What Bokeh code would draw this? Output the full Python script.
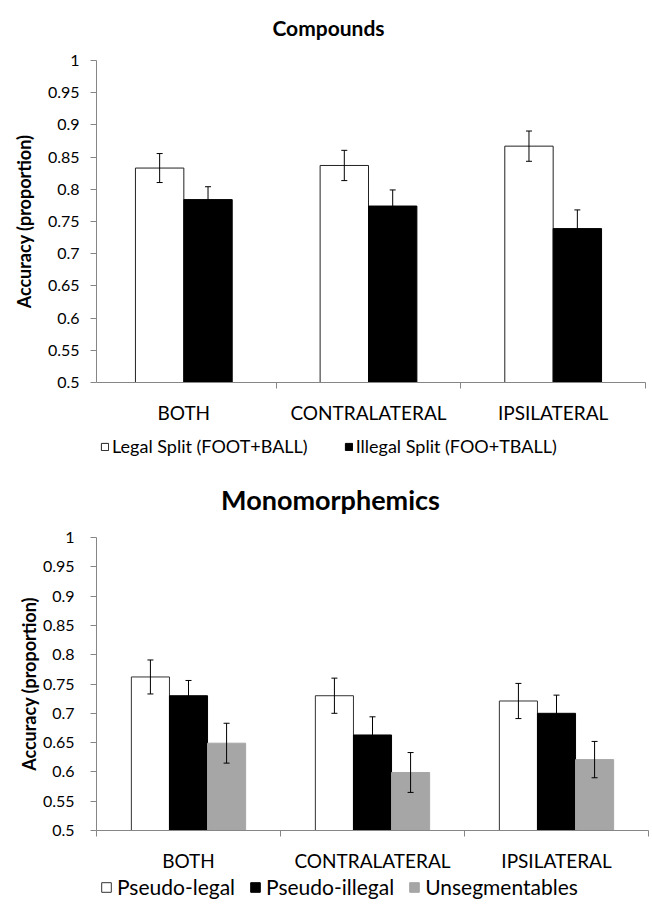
from bokeh.plotting import figure
from bokeh.models import (FixedTicker, Legend, LegendItem, Whisker, TeeHead,
                          ColumnDataSource, Range1d, Label)
from bokeh.layouts import column
from bokeh.embed import file_html
from bokeh.resources import INLINE
import numpy as np

# ---------------- data ----------------
categories = ["BOTH", "CONTRALATERAL", "IPSILATERAL"]
y_ticks = [0.5, 0.55, 0.6, 0.65, 0.7, 0.75, 0.8, 0.85, 0.9, 0.95, 1.0]
y_tick_labels = ["0.5", "0.55", "0.6", "0.65", "0.7", "0.75", "0.8", "0.85", "0.9", "0.95", "1"]

comp_title = "Compounds"
comp_series = ["Legal Split (FOOT+BALL)", "Illegal Split (FOO+TBALL)"]
comp_legal = [0.833, 0.837, 0.867]
comp_legal_err = [0.0225, 0.0235, 0.0235]
comp_illegal = [0.784, 0.774, 0.739]
comp_illegal_err = [0.020, 0.025, 0.029]

mono_title = "Monomorphemics"
mono_series = ["Pseudo-legal", "Pseudo-illegal", "Unsegmentables"]
mono_legal = [0.762, 0.730, 0.721]
mono_legal_err = [0.029, 0.030, 0.030]
mono_illegal = [0.730, 0.663, 0.700]
mono_illegal_err = [0.026, 0.031, 0.031]
mono_unseg = [0.649, 0.599, 0.621]
mono_unseg_err = [0.034, 0.034, 0.031]

y_label = "Accuracy (proportion)"

FONT = "Lato"
AXIS_COLOR = "#868686"
TEXT_COLOR = "#000000"
FIG_W = 650
FRAME_L = 96          # common frame left edge (column aligns frames)
CAT_PX = 184.67       # px per category in the top chart
C1_SHIFT = 5          # top chart's category origin sits 5px left of the frame edge


def blank_fig(height):
    p = figure(width=FIG_W, height=height, output_backend="svg",
               toolbar_location=None, x_range=Range1d(0, 1), y_range=Range1d(0, 1),
               x_axis_location=None, y_axis_location=None,
               min_border_left=FRAME_L, min_border_right=0,
               min_border_top=0, min_border_bottom=0)
    p.outline_line_color = None
    p.xgrid.visible = False
    p.ygrid.visible = False
    p.border_fill_color = "white"
    p.background_fill_color = "white"
    return p


def title_fig(text, height, cx, cy, size):
    p = blank_fig(height)
    p.add_layout(Label(x=cx - FRAME_L, y=cy, x_units="screen", y_units="screen",
                       text=text, text_align="center", text_baseline="middle",
                       text_font=FONT, text_font_style="bold",
                       text_font_size=size, text_color=TEXT_COLOR))
    return p


def legend_fig(series_names, values, fills, lines, height, loc, size, glyph,
               spacing, standoff):
    p = blank_fig(height)
    items = []
    centers = np.arange(len(categories)) + 0.5
    for name, vals, fc, lc in zip(series_names, values, fills, lines):
        # proxy renderer (hidden) that carries the series style for the legend
        r = p.vbar(x=centers, top=vals, bottom=0.5, width=0.2,
                   fill_color=fc, line_color=lc, visible=False)
        items.append(LegendItem(label=name, renderers=[r]))
    legend = Legend(items=items, orientation="horizontal",
                    location=(loc[0] - FRAME_L, loc[1]),
                    border_line_color=None, background_fill_alpha=0,
                    label_text_font=FONT, label_text_font_size=size,
                    label_text_color=TEXT_COLOR, label_height=22,
                    glyph_width=glyph, glyph_height=glyph,
                    spacing=spacing, label_standoff=standoff, padding=0, margin=0,
                    inactive_fill_alpha=0)
    p.add_layout(legend, "center")
    return p


def chart_fig(values, errors, fills, lines, bar_width, frame_w, frame_h, borders,
              x_start, tick_standoff, ylab_standoff):
    n_cat = len(categories)
    n_ser = len(values)
    centers = np.arange(n_cat) + 0.5
    p = figure(frame_width=frame_w, frame_height=frame_h, output_backend="svg",
               toolbar_location=None, x_range=Range1d(x_start, n_cat),
               y_range=Range1d(0.5, 1.0),
               min_border_left=borders[0], min_border_right=borders[1],
               min_border_top=borders[2], min_border_bottom=borders[3])
    p.outline_line_color = None
    p.xgrid.visible = False
    p.ygrid.visible = False
    p.background_fill_color = "white"
    p.border_fill_color = "white"

    for k in range(n_ser):
        offs = (k - (n_ser - 1) / 2.0) * bar_width
        src = ColumnDataSource(dict(x=centers + offs, top=values[k],
                                    upper=np.array(values[k]) + np.array(errors[k]),
                                    lower=np.array(values[k]) - np.array(errors[k])))
        p.vbar(x="x", top="top", bottom=0.5, width=bar_width, source=src,
               fill_color=fills[k], line_color=lines[k], line_width=1)
        p.add_layout(Whisker(source=src, base="x", upper="upper", lower="lower",
                             line_color="black", line_width=1, level="overlay",
                             upper_head=TeeHead(size=6, line_color="black", line_width=1),
                             lower_head=TeeHead(size=6, line_color="black", line_width=1)))

    ya = p.yaxis[0]
    ya.ticker = FixedTicker(ticks=y_ticks, minor_ticks=[])
    ya.major_label_overrides = {t: l for t, l in zip(y_ticks, y_tick_labels)}
    ya.axis_line_color = AXIS_COLOR
    ya.major_tick_line_color = AXIS_COLOR
    ya.major_tick_out = 6
    ya.major_tick_in = 0
    ya.minor_tick_line_color = None
    ya.major_label_text_font = FONT
    ya.major_label_text_font_size = "16px"
    ya.major_label_text_color = TEXT_COLOR
    ya.major_label_standoff = tick_standoff
    ya.axis_label = y_label
    ya.axis_label_text_font = FONT
    ya.axis_label_text_font_style = "bold"
    ya.axis_label_text_font_size = "18px"
    ya.axis_label_text_color = TEXT_COLOR
    ya.axis_label_standoff = ylab_standoff

    xa = p.xaxis[0]
    xa.ticker = FixedTicker(ticks=list(centers), minor_ticks=list(np.arange(n_cat + 1)))
    xa.major_label_overrides = {float(c): cat for c, cat in zip(centers, categories)}
    xa.axis_line_color = AXIS_COLOR
    xa.major_tick_line_color = None
    xa.major_tick_out = 0
    xa.major_tick_in = 0
    xa.minor_tick_line_color = AXIS_COLOR
    xa.minor_tick_out = 6
    xa.minor_tick_in = 0
    xa.major_label_text_font = FONT
    xa.major_label_text_font_size = "19px"
    xa.major_label_text_color = TEXT_COLOR
    xa.major_label_standoff = 12
    return p


comp_fills = ["white", "black"]
comp_lines = ["#222222", "black"]
mono_fills = ["white", "black", "#A6A6A6"]
mono_lines = ["#333333", "black", "#A6A6A6"]

t1 = title_fig(comp_title, 48, 328, 21, "21px")
c1 = chart_fig([comp_legal, comp_illegal], [comp_legal_err, comp_illegal_err],
               comp_fills, comp_lines, 0.262, 549, 322, (FRAME_L, 5, 12, 52),
               C1_SHIFT / CAT_PX, 11, 10)
l1 = legend_fig(comp_series, [comp_legal, comp_illegal], comp_fills, comp_lines,
                28, (100, 5), "18px", 9, 36, 3)

t2 = title_fig(mono_title, 63, 330, 26, "27px")
c2 = chart_fig([mono_legal, mono_illegal, mono_unseg],
               [mono_legal_err, mono_illegal_err, mono_unseg_err],
               mono_fills, mono_lines, 0.207, 552, 293, (FRAME_L, 2, 12, 45),
               0, 16, 0)
l2 = legend_fig(mono_series, [mono_legal, mono_illegal, mono_unseg],
                mono_fills, mono_lines, 30, (100, 6), "21px", 12, 14, 5)

layout = column(t1, c1, l1, t2, c2, l2, spacing=0)
open("out.html", "w").write(file_html(layout, INLINE))
